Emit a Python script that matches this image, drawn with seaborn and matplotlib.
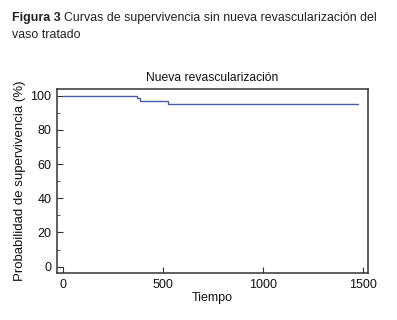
import numpy as np
import pandas as pd
import matplotlib
matplotlib.use("Agg")
import matplotlib.pyplot as plt
import seaborn as sns
from matplotlib.ticker import MultipleLocator

# Kaplan-Meier estimate
tiempo = [0, 368, 385, 525, 1475]
supervivencia = [100, 98.8, 97, 95, 95]
x_ticks = [0, 500, 1000, 1500]
y_ticks = [0, 20, 40, 60, 80, 100]

df = pd.DataFrame({"Tiempo": tiempo, "Supervivencia": supervivencia})

sns.set_style("white")
plt.rcParams["font.family"] = ["Liberation Sans", "DejaVu Sans"]

fig = plt.figure(figsize=(3.97, 3.2), dpi=100)
ax = fig.add_axes([0.1436, 0.1469, 0.7834, 0.575])

sns.lineplot(data=df, x="Tiempo", y="Supervivencia", drawstyle="steps-post",
             color="#4a5ea8", linewidth=1.0, ax=ax)

ax.set_xlim(-30, 1525)
ax.set_ylim(-3.7, 103.9)
ax.set_xticks(x_ticks)
ax.set_yticks(y_ticks)
ax.yaxis.set_minor_locator(MultipleLocator(10))
ax.tick_params(axis="both", which="major", direction="in", length=4, width=0.8,
               colors="#333333", labelcolor="#111111", labelsize=9, pad=4)
ax.tick_params(axis="y", which="minor", direction="in", length=2.5, width=0.7,
               colors="#555555", left=True)
ax.tick_params(axis="x", which="both", bottom=True, top=False)
ax.tick_params(axis="y", which="both", left=True, right=False)
for s in ax.spines.values():
    s.set_color("#333333")
    s.set_linewidth(1.1)

ax.set_xlabel("Tiempo", fontsize=9, color="#111111", labelpad=1)
ax.set_ylabel("Probabilidad de supervivencia (%)", fontsize=9.5, color="#111111", labelpad=3)
ax.set_title("Nueva revascularización", fontsize=8.7, color="#111111", pad=6)

# caption: bold "Figura 3" followed by regular text
t1 = fig.text(0.03, 0.945, "Figura 3", fontsize=8.9, fontweight="bold", color="#222222", va="center")
fig.canvas.draw()
bb = t1.get_window_extent().transformed(fig.transFigure.inverted())
fig.text(bb.x1 + 0.008, 0.945, "Curvas de supervivencia sin nueva revascularización del",
         fontsize=8.9, color="#222222", va="center")
fig.text(0.03, 0.892, "vaso tratado", fontsize=8.9, color="#222222", va="center")

fig.savefig("out.png", dpi=100)
